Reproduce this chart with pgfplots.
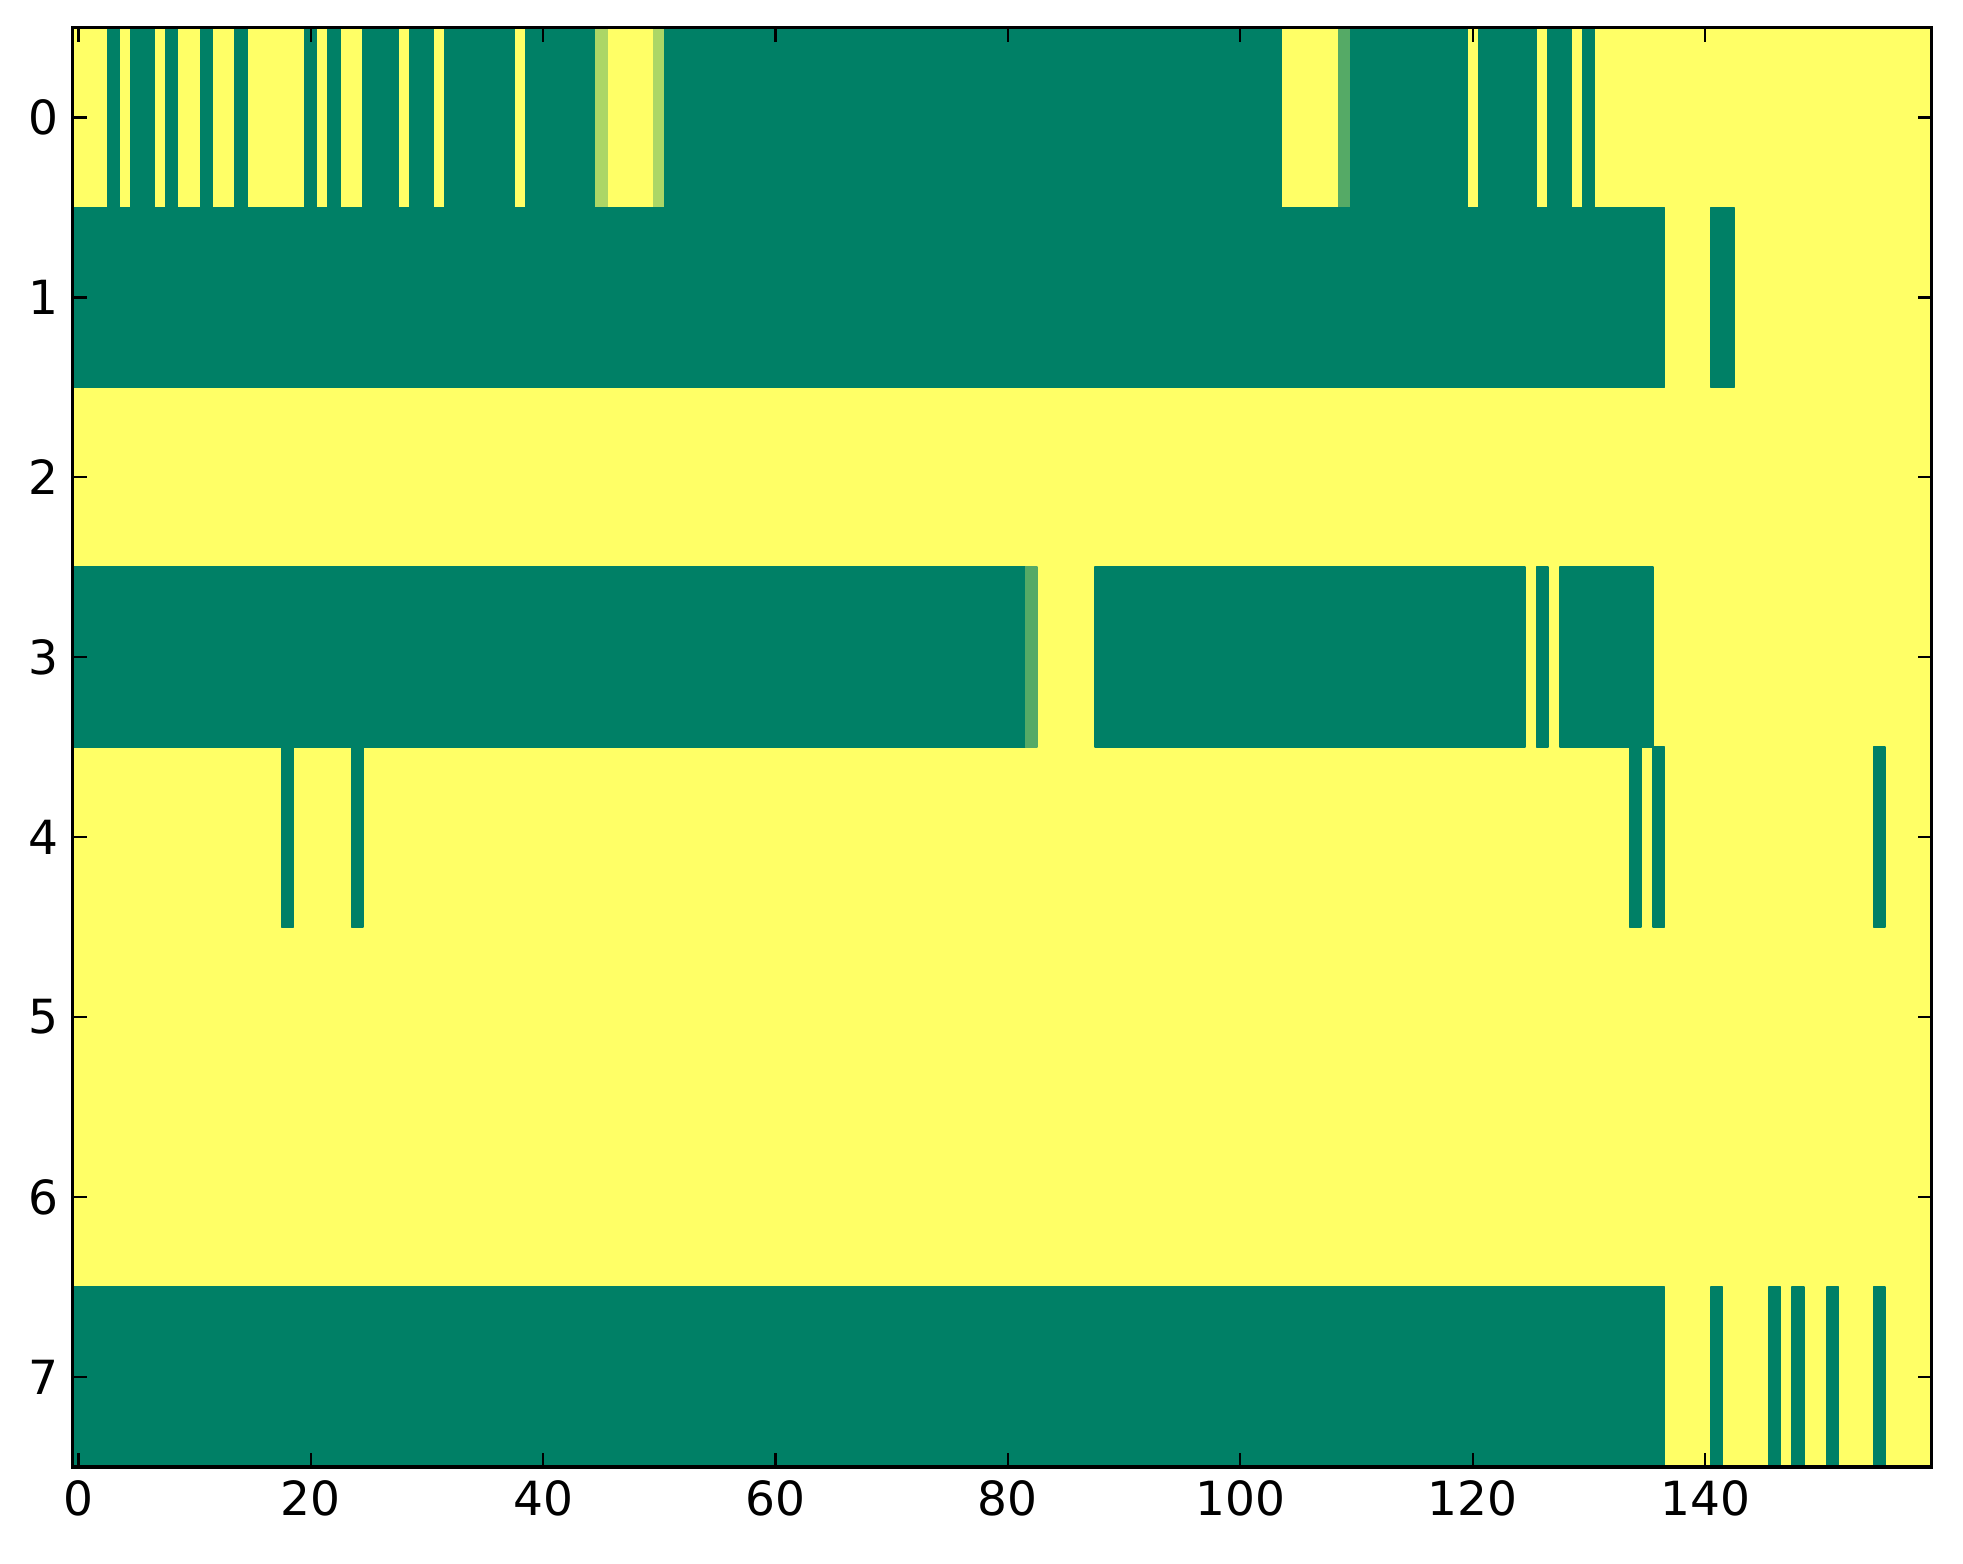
\documentclass[border=0pt]{standalone}
\usepackage{pgfplots}
\pgfplotsset{compat=1.18}
\usepackage{fontspec}
\setmainfont{DejaVu Sans}
\begin{document}
\begin{tikzpicture}
\begin{axis}[name=ax,
  scale only axis, width=474pt, height=367pt,
  xmin=-0.5, xmax=159.5, ymin=-0.5, ymax=7.5, y dir=reverse,
  xtick={0,20,...,140}, ytick={0,1,...,7},
  tick align=inside, major tick length=3.6pt,
  every tick/.style={black, line width=0.6pt},
  axis line style={line width=0.85pt},
  tick label style={font=\fontsize{12}{14}\selectfont},
  /pgf/number format/assume math mode=true,
  colormap={summer}{rgb=(0,0.5,0.4) rgb=(1,1,0.4)},
  point meta min=0, point meta max=1,
  axis on top,
]
\addplot[patch, patch type=rectangle, shader=flat, point meta=\thisrow{c}] table {
x y c
-0.5 -0.5 1
159.5 -0.5 1
159.5 7.5 1
-0.5 7.5 1
2.5 -0.5 0
3.5 -0.5 0
3.5 0.5 0
2.5 0.5 0
4.5 -0.5 0
6.5 -0.5 0
6.5 0.5 0
4.5 0.5 0
7.5 -0.5 0
8.5 -0.5 0
8.5 0.5 0
7.5 0.5 0
10.5 -0.5 0
11.5 -0.5 0
11.5 0.5 0
10.5 0.5 0
13.5 -0.5 0
14.5 -0.5 0
14.5 0.5 0
13.5 0.5 0
19.5 -0.5 0
20.5 -0.5 0
20.5 0.5 0
19.5 0.5 0
21.5 -0.5 0
22.5 -0.5 0
22.5 0.5 0
21.5 0.5 0
24.5 -0.5 0
27.5 -0.5 0
27.5 0.5 0
24.5 0.5 0
28.5 -0.5 0
30.5 -0.5 0
30.5 0.5 0
28.5 0.5 0
31.5 -0.5 0
37.5 -0.5 0
37.5 0.5 0
31.5 0.5 0
38.5 -0.5 0
44.5 -0.5 0
44.5 0.5 0
38.5 0.5 0
44.5 -0.5 0.67
45.5 -0.5 0.67
45.5 0.5 0.67
44.5 0.5 0.67
49.5 -0.5 0.67
50.5 -0.5 0.67
50.5 0.5 0.67
49.5 0.5 0.67
50.5 -0.5 0
103.5 -0.5 0
103.5 0.5 0
50.5 0.5 0
108.5 -0.5 0.33
109.5 -0.5 0.33
109.5 0.5 0.33
108.5 0.5 0.33
109.5 -0.5 0
119.5 -0.5 0
119.5 0.5 0
109.5 0.5 0
120.5 -0.5 0
125.5 -0.5 0
125.5 0.5 0
120.5 0.5 0
126.5 -0.5 0
128.5 -0.5 0
128.5 0.5 0
126.5 0.5 0
129.5 -0.5 0
130.5 -0.5 0
130.5 0.5 0
129.5 0.5 0
-0.5 0.5 0
136.5 0.5 0
136.5 1.5 0
-0.5 1.5 0
140.5 0.5 0
142.5 0.5 0
142.5 1.5 0
140.5 1.5 0
-0.5 2.5 0
81.5 2.5 0
81.5 3.5 0
-0.5 3.5 0
81.5 2.5 0.33
82.5 2.5 0.33
82.5 3.5 0.33
81.5 3.5 0.33
87.5 2.5 0
124.5 2.5 0
124.5 3.5 0
87.5 3.5 0
125.5 2.5 0
126.5 2.5 0
126.5 3.5 0
125.5 3.5 0
127.5 2.5 0
135.5 2.5 0
135.5 3.5 0
127.5 3.5 0
17.5 3.5 0
18.5 3.5 0
18.5 4.5 0
17.5 4.5 0
23.5 3.5 0
24.5 3.5 0
24.5 4.5 0
23.5 4.5 0
133.5 3.5 0
134.5 3.5 0
134.5 4.5 0
133.5 4.5 0
135.5 3.5 0
136.5 3.5 0
136.5 4.5 0
135.5 4.5 0
154.5 3.5 0
155.5 3.5 0
155.5 4.5 0
154.5 4.5 0
-0.5 6.5 0
136.5 6.5 0
136.5 7.5 0
-0.5 7.5 0
140.5 6.5 0
141.5 6.5 0
141.5 7.5 0
140.5 7.5 0
145.5 6.5 0
146.5 6.5 0
146.5 7.5 0
145.5 7.5 0
147.5 6.5 0
148.5 6.5 0
148.5 7.5 0
147.5 7.5 0
150.5 6.5 0
151.5 6.5 0
151.5 7.5 0
150.5 7.5 0
154.5 6.5 0
155.5 6.5 0
155.5 7.5 0
154.5 7.5 0
};
\end{axis}
\path ([xshift=-18.5pt,yshift=-24.7pt]ax.south west) rectangle ([xshift=8pt,yshift=7pt]ax.north east);
\end{tikzpicture}
\end{document}
